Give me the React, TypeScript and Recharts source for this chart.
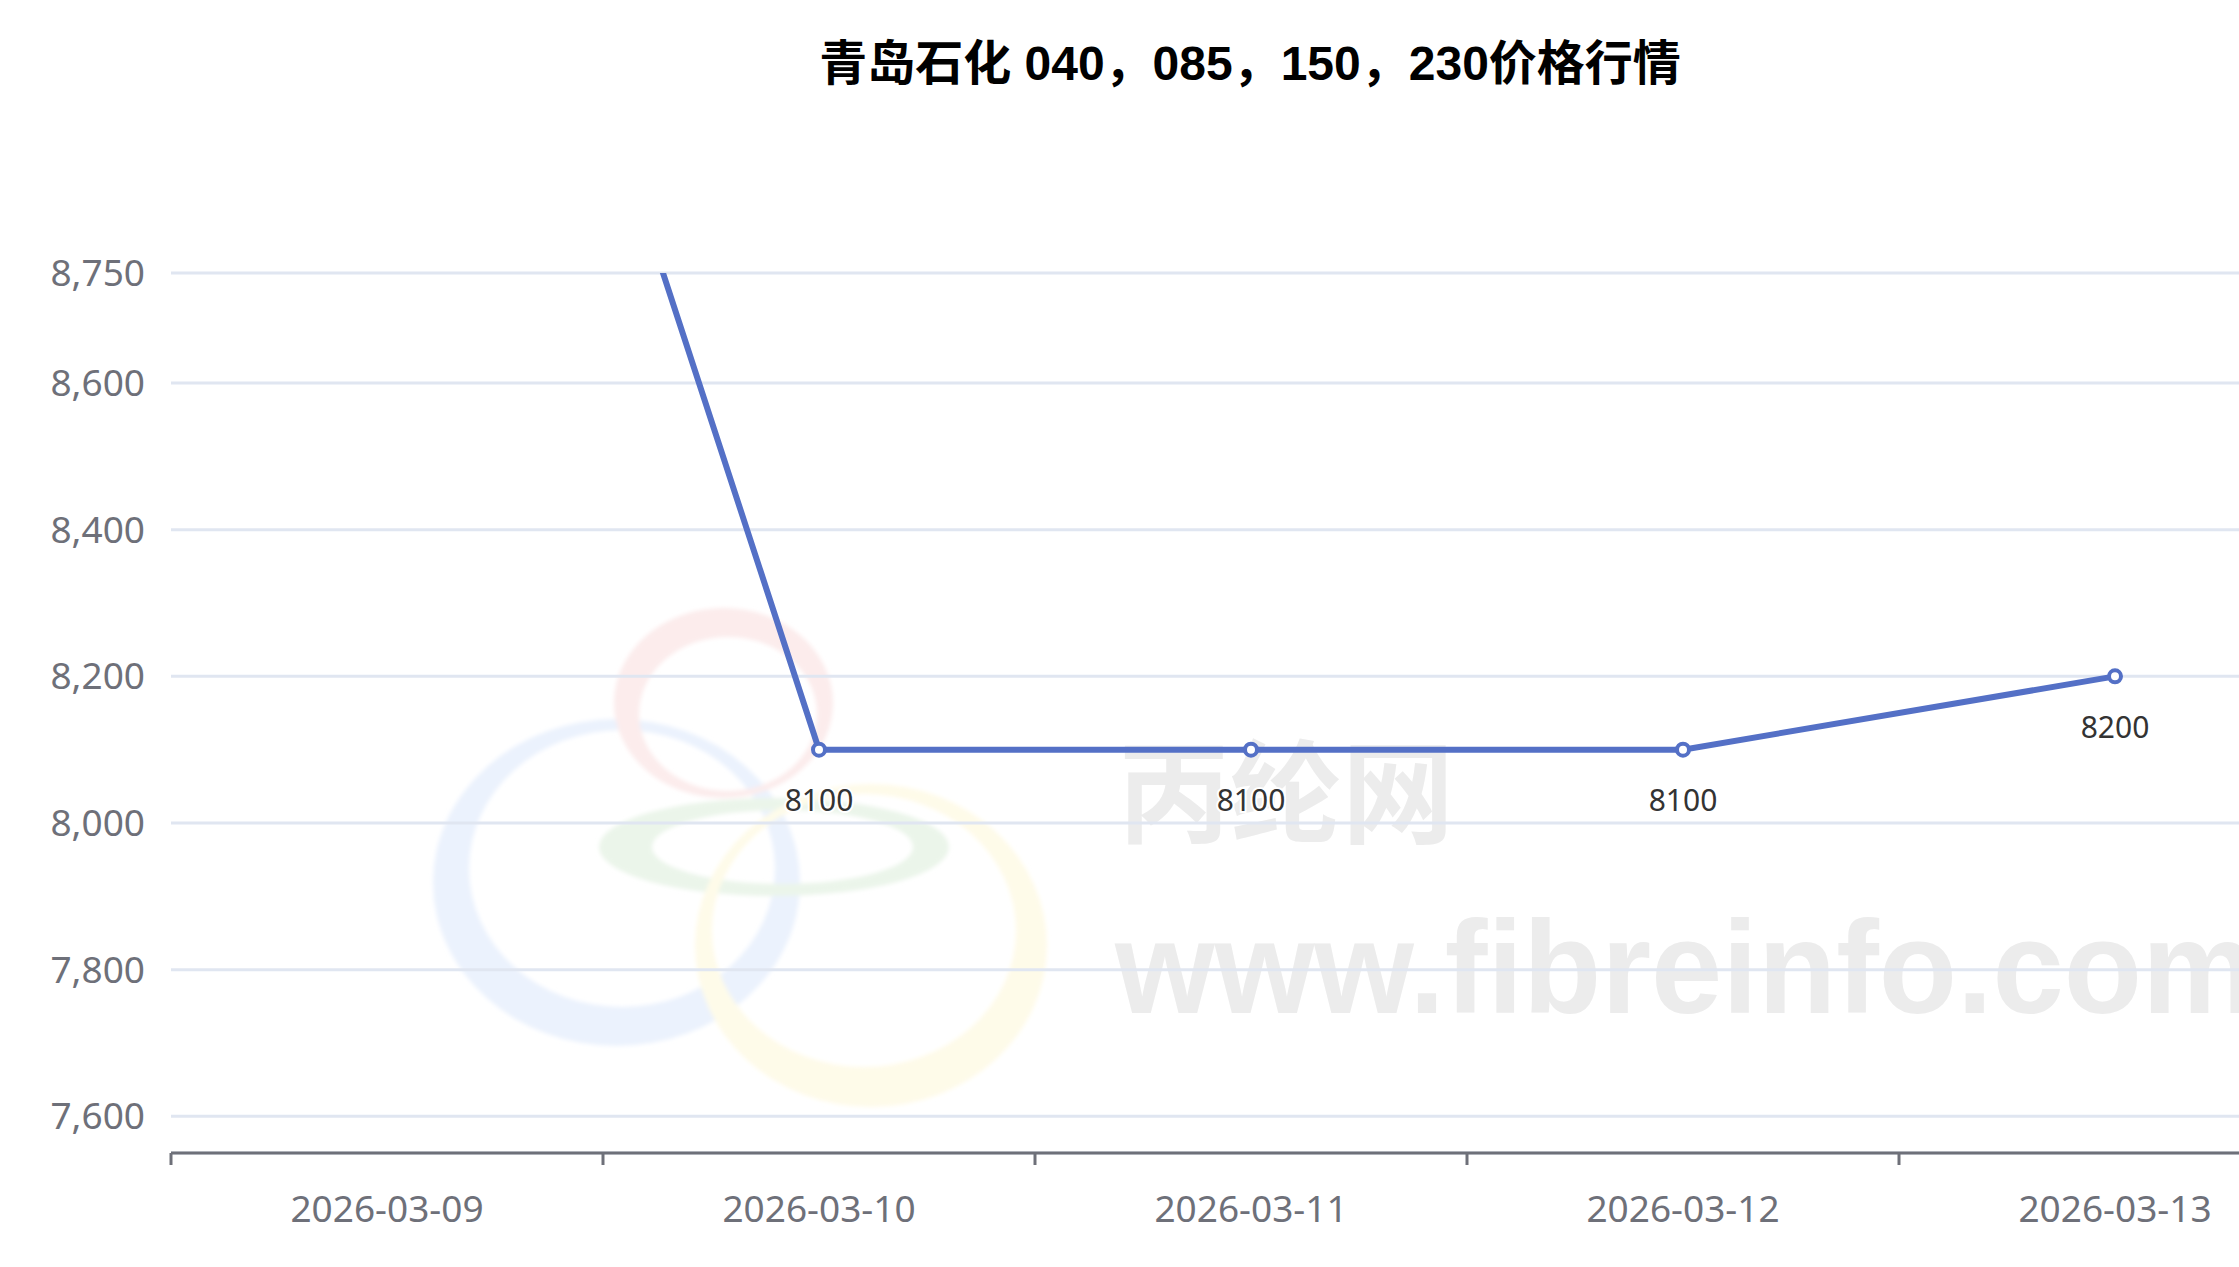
import React from "react";
import { LineChart, Line, XAxis, YAxis, CartesianGrid, LabelList } from "recharts";

const dates = ["2026-03-09", "2026-03-10", "2026-03-11", "2026-03-12", "2026-03-13"];
const prices = [9900, 8100, 8100, 8100, 8200];
const yTicks = [7600, 7800, 8000, 8200, 8400, 8600, 8750];
const yDomain = [7550, 8750];

const title = "青岛石化 040，085，150，230价格行情";

const CHART_W = 2500;
const CHART_H = 1267;
const LEFT = 171;
const RIGHT = 169;
const PLOT_W = CHART_W - LEFT - RIGHT;
const HALF_STEP = PLOT_W / dates.length / 2;

const axisColor = "#6E7079";
const lineColor = "#5470C6";

const rows = dates.map((d, i) => ({ date: d, price: prices[i] }));

// ECharts-like category tick: label at centre, tick mark on the band boundary
function DateTick(props: any) {
  const { x, y, payload } = props;
  return (
    <g>
      <line x1={x - HALF_STEP} x2={x - HALF_STEP} y1={y} y2={y + 12} stroke={axisColor} strokeWidth={3} />
      <text x={x} y={y + 54} textAnchor="middle" dominantBaseline="central" fill={axisColor} fontSize={37} fontFamily="'Noto Sans', sans-serif">
        {payload.value}
      </text>
    </g>
  );
}

function PriceLabel(props: any) {
  const { x, y, value } = props;
  // points above the visible range are clipped, so is their label
  if (value > yDomain[1]) return null;
  return (
    <text
      x={x}
      y={y + 50}
      textAnchor="middle"
      dominantBaseline="central"
      fill="#333"
      stroke="#fff"
      strokeWidth={4}
      paintOrder="stroke"
      fontSize={30}
      fontFamily="'Noto Sans', sans-serif"
    >
      {value}
    </text>
  );
}

// ring drawn as outer ellipse minus inner ellipse (box coords)
function ring(o: number[], i: number[]) {
  const ell = (x0: number, x1: number, y0: number, y1: number) => {
    const cx = (x0 + x1) / 2, cy = (y0 + y1) / 2, rx = (x1 - x0) / 2, ry = (y1 - y0) / 2;
    return `M${cx - rx},${cy} a${rx},${ry} 0 1,0 ${2 * rx},0 a${rx},${ry} 0 1,0 ${-2 * rx},0 Z`;
  };
  return ell(o[0], o[1], o[2], o[3]) + " " + ell(i[0], i[1], i[2], i[3]);
}

function Watermark() {
  return (
    <svg width={2239} height={1267} style={{ position: "absolute", left: 0, top: 0 }}>
      <defs>
        <filter id="soft" x="-10%" y="-10%" width="120%" height="120%">
          <feGaussianBlur stdDeviation={2} />
        </filter>
      </defs>
      <g filter="url(#soft)">
        <path d={ring([433, 800, 719, 1046], [469, 775, 730, 1007])} fill="#ebf2fd" fillRule="evenodd" />
        <path d={ring([614, 833, 608, 798], [639, 817, 637, 791])} fill="#fcecec" fillRule="evenodd" />
        <path d={ring([599, 949, 798, 896], [652, 913, 810, 884])} fill="#ebf5ea" fillRule="evenodd" />
        <path d={ring([695, 1047, 784, 1107], [712, 1016, 794, 1067])} fill="#fefbe9" fillRule="evenodd" />
      </g>
      <text x={1118} y={835} fill="#ececec" fontSize={112} fontWeight={700} fontFamily="'Noto Sans CJK SC', sans-serif">
        丙纶网
      </text>
      <text
        x={1115}
        y={1013}
        fill="#ececec"
        fontSize={132}
        fontWeight={700}
        textLength={1141}
        lengthAdjust="spacingAndGlyphs"
        fontFamily="'Liberation Sans', Arial, sans-serif"
      >
        www.fibreinfo.com
      </text>
    </svg>
  );
}

export default function App() {
  return (
    <div style={{ position: "fixed", left: 0, top: 0, width: 2239, height: 1267, overflow: "hidden", background: "#fff" }}>
      <Watermark />
      <div
        style={{
          position: "absolute",
          left: 0,
          top: 40,
          width: CHART_W,
          textAlign: "center",
          fontSize: 48,
          lineHeight: "48px",
          fontWeight: 700,
          color: "#000",
          fontFamily: "'Liberation Sans', 'Noto Sans CJK SC', sans-serif",
        }}
      >
        {title}
      </div>
      <div style={{ position: "absolute", left: 0, top: 0 }}>
        <LineChart width={CHART_W} height={CHART_H} data={rows} margin={{ top: 273, right: RIGHT, bottom: 34, left: 0 }}>
          <CartesianGrid vertical={false} stroke="#E0E6F1" strokeWidth={3} />
          <XAxis
            dataKey="date"
            height={80}
            padding={{ left: HALF_STEP, right: HALF_STEP }}
            interval={0}
            axisLine={{ stroke: axisColor, strokeWidth: 3 }}
            tickLine={false}
            tickSize={0}
            tickMargin={0}
            tick={<DateTick />}
          />
          <YAxis
            width={LEFT}
            domain={yDomain}
            ticks={yTicks}
            allowDataOverflow
            axisLine={false}
            tickLine={false}
            tickSize={0}
            tickMargin={26}
            tick={{ fill: axisColor, fontSize: 37, fontFamily: "'Noto Sans', sans-serif" }}
            tickFormatter={(v: number) => v.toLocaleString("en-US")}
          />
          <Line
            type="linear"
            dataKey="price"
            stroke={lineColor}
            strokeWidth={6}
            dot={{ r: 6, fill: "#fff", stroke: lineColor, strokeWidth: 4 }}
            isAnimationActive={false}
          >
            <LabelList dataKey="price" content={<PriceLabel />} />
          </Line>
        </LineChart>
      </div>
    </div>
  );
}
